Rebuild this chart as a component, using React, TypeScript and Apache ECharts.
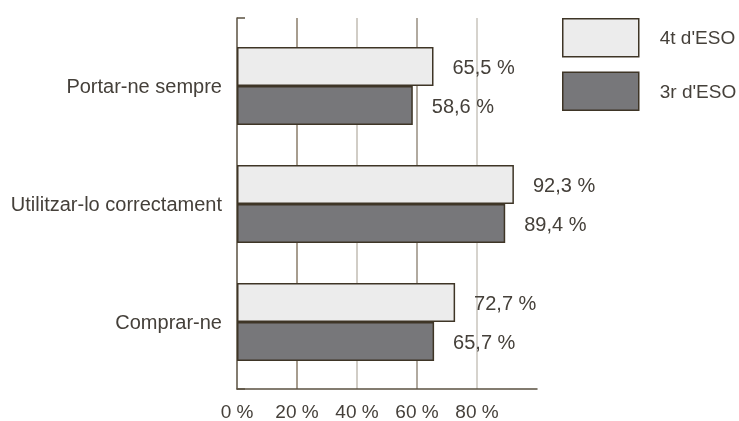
import React, { useEffect, useRef } from "react";
import * as echarts from "echarts";

const categories = ["Comprar-ne", "Utilitzar-lo correctament", "Portar-ne sempre"];
const serie4t = [72.7, 92.3, 65.5];
const serie3r = [65.7, 89.4, 58.6];
const seriesNames = ["4t d'ESO", "3r d'ESO"];
const xTicks = [0, 20, 40, 60, 80, 100];

const FONT = "Liberation Sans";
const TEXT = "#45403a";
const BORDER = "#3e3526";

const fmt = (v: number) => v.toFixed(1).replace(".", ",") + " %";

export default function App() {
  const ref = useRef<HTMLDivElement>(null);
  useEffect(() => {
    if (!ref.current) return;
    const chart = echarts.init(ref.current, undefined, { renderer: "svg" });
    const labelStyle = {
      show: true,
      position: "right" as const,
      distance: 19,
      fontFamily: FONT,
      fontSize: 20,
      color: TEXT,
      formatter: (p: any) => fmt(p.value),
    };
    chart.setOption({
      animation: false,
      textStyle: { fontFamily: FONT },
      legend: {
        orient: "vertical",
        left: 562,
        top: 18,
        padding: 0,
        itemWidth: 76,
        itemHeight: 38,
        itemGap: 14,
        data: [seriesNames[0], seriesNames[1]],
        icon: "rect",
        textStyle: { fontFamily: FONT, fontSize: 19, color: TEXT, padding: [0, 0, 0, 16] },
        itemStyle: { borderColor: BORDER, borderWidth: 1.5 },
      },
      grid: [
        { left: 237, top: 18, width: 300, height: 371 },
        { left: 237, top: 27, width: 300, height: 354 },
      ],
      xAxis: [
        {
          gridIndex: 0,
          type: "value",
          min: xTicks[0],
          max: xTicks[xTicks.length - 1],
          interval: 20,
          axisLine: { show: true, lineStyle: { color: "#5a5040", width: 1.5 } },
          axisTick: { show: false },
          axisLabel: {
            fontFamily: FONT,
            fontSize: 19,
            color: TEXT,
            margin: 13,
            formatter: (v: number) => (v >= 100 ? "" : v + " %"),
          },
          splitLine: {
            show: true,
            lineStyle: {
              color: ["rgba(0,0,0,0)", "#8a7d6a", "#c2bdb3", "#978e80", "#c9c5bc", "rgba(0,0,0,0)"],
              width: 1.5,
            },
          },
        },
        {
          gridIndex: 1,
          type: "value",
          min: 0,
          max: 100,
          show: false,
          splitLine: { show: false },
        },
      ],
      yAxis: [
        {
          gridIndex: 0,
          type: "value",
          min: 0,
          max: 1,
          interval: 1,
          axisLine: { show: true, lineStyle: { color: "#5a5040", width: 1.5 } },
          axisTick: { show: true, inside: true, length: 8, lineStyle: { color: "#5a5040", width: 1.5 } },
          axisLabel: { show: false },
          splitLine: { show: false },
        },
        {
          gridIndex: 1,
          type: "category",
          data: categories,
          axisLine: { show: false },
          axisTick: { show: false },
          axisLabel: { fontFamily: FONT, fontSize: 20, color: TEXT, margin: 15 },
        },
      ],
      series: [
        {
          name: seriesNames[0],
          type: "bar",
          xAxisIndex: 1,
          yAxisIndex: 1,
          data: serie4t,
          barWidth: 39,
          barGap: "0%",
          itemStyle: { color: "#ececec", borderColor: BORDER, borderWidth: 1.5 },
          label: labelStyle,
        },
        {
          name: seriesNames[1],
          type: "bar",
          xAxisIndex: 1,
          yAxisIndex: 1,
          data: serie3r,
          barWidth: 39,
          barGap: "0%",
          itemStyle: { color: "#77777a", borderColor: BORDER, borderWidth: 1.5 },
          label: labelStyle,
        },
      ],
    });
    return () => chart.dispose();
  }, []);
  return <div ref={ref} style={{ width: 739, height: 421, position: "fixed", left: 0, top: 0 }} />;
}
